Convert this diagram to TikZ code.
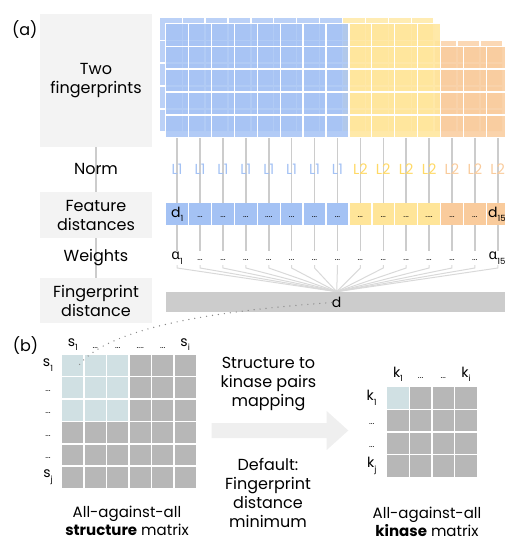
\documentclass[tikz,border=0pt]{standalone}
\usepackage{fontspec}
\setmainfont{Poppins}
\newfontfamily\grk{Noto Sans}
\usetikzlibrary{backgrounds}
\definecolor{fpblue}{HTML}{A4C2F4}
\definecolor{fpyel}{HTML}{FFE599}
\definecolor{fporg}{HTML}{F9CB9C}
\definecolor{lyel}{HTML}{FFD966}
\definecolor{boxgray}{HTML}{F3F3F3}
\definecolor{linegray}{HTML}{CCCCCC}
\definecolor{fangray}{HTML}{D9D9D9}
\definecolor{cellgray}{HTML}{B7B7B7}
\definecolor{cellblue}{HTML}{D0E0E3}
\definecolor{arrowgray}{HTML}{EFEFEF}
\definecolor{dotgray}{HTML}{888888}
\newcommand\sbx[1]{\raisebox{-0.6ex}{\fontsize{8.5}{8.5}\selectfont #1}}
\newcommand\dts{{\fontsize{8.5}{8.5}\selectfont ...}}
\newcommand\dtsf{{\fontsize{8.5}{8.5}\selectfont ....}}
\begin{document}
\begin{tikzpicture}[x=1pt,y=-1pt,
 conn/.style={draw=linegray,line width=1.5pt},
 fanline/.style={draw=fangray,line width=1pt},
 lbox/.style={fill=boxgray,minimum width=112pt,inner sep=0pt,align=center,font=\fontsize{16}{19}\selectfont},
 txt/.style={inner sep=0pt,align=center,font=\fontsize{16}{19}\selectfont},
 captxt/.style={inner sep=0pt,align=center,font=\fontsize{15}{18}\selectfont},
 gback/.style={draw=white,line width=1.3pt,fill opacity=0.75},
 gfront/.style={draw=white,line width=1.3pt,fill opacity=0.85},
 fcell/.style={minimum width=21.5pt,minimum height=21.7pt,inner sep=0pt},
 lab/.style={inner sep=0pt,font=\fontsize{14}{14}\selectfont},
 nlab/.style={inner sep=0pt,font=\fontsize{14.5}{14.5}\selectfont},
 mcell/.style={minimum size=22.45pt,draw=white,line width=1.5pt,inner sep=0pt,fill=cellgray},
 kcell/.style={minimum size=22.65pt,draw=white,line width=1.5pt,inner sep=0pt,fill=cellgray},
 dotline/.style={draw=dotgray,line width=1.4pt,line cap=round,dash pattern=on 0pt off 6pt}
]
\useasboundingbox (0,0) rectangle (505,542);

% ---------- panel (a) left labels
\node[txt] (la) at (24.7,30) {(a)};
\node[txt] (lb) at (25.5,346) {(b)};
\node[lbox,minimum height=133pt] (b1) at (96,80.5) {Two\\fingerprints};
\node[txt] (norm) at (96,169) {Norm};
\node[lbox,minimum height=46pt] (b2) at (96,215) {Feature\\distances};
\node[txt] (wts) at (96,258) {Weights};
\node[lbox,minimum height=45pt] (b3) at (96,300.5) {Fingerprint\\distance};

% ---------- fingerprint grids (back layer)
\foreach \c in {0,...,7}{\foreach \r in {0,...,4}{
  \filldraw[gback,fill=fpblue] ({159.3+22.9*\c},{17.3+22.9*\r}) rectangle ++(22.9,22.9);}}
\foreach \c in {8,...,11}{\foreach \r in {0,...,4}{
  \filldraw[gback,fill=fpyel] ({159.3+22.9*\c},{17.3+22.9*\r}) rectangle ++(22.9,22.9);}}
\foreach \c in {12,13,14}{\foreach \r in {1,...,4}{
  \filldraw[gback,fill=fporg] ({159.3+22.9*\c},{17.3+22.9*\r}) rectangle ++(22.9,22.9);}}
% front layer
\foreach \c in {0,...,7}{\foreach \r in {0,...,4}{
  \filldraw[gfront,fill=fpblue] ({165.7+22.9*\c},{23.3+22.9*\r}) rectangle ++(22.9,22.9);}}
\foreach \c in {8,...,11}{\foreach \r in {0,...,4}{
  \filldraw[gfront,fill=fpyel] ({165.7+22.9*\c},{23.3+22.9*\r}) rectangle ++(22.9,22.9);}}
\foreach \c in {12,13,14}{\foreach \r in {1,...,4}{
  \filldraw[gfront,fill=fporg] ({165.7+22.9*\c},{23.3+22.9*\r}) rectangle ++(22.9,22.9);}}

% ---------- per-feature column
\foreach \i in {0,...,14}{
  \coordinate (g\i) at ({177.15+22.9*\i},137.8);
  \coordinate (at\i) at ({177.15+22.9*\i},251);
  \coordinate (ab\i) at ({177.15+22.9*\i},265);
}
\foreach \i in {0,...,7}{\node[nlab,text=fpblue] (L\i) at ({177.15+22.9*\i},169.5) {L1};}
\foreach \i in {8,...,11}{\node[nlab,text=lyel] (L\i) at ({177.15+22.9*\i},169.5) {L2};}
\foreach \i in {12,13,14}{\node[nlab,text=fporg] (L\i) at ({177.15+22.9*\i},169.5) {L2};}

\foreach \i in {0,...,7}{\node[fcell,fill=fpblue] (f\i) at ({177.15+22.9*\i},214.2) {};}
\foreach \i in {8,...,11}{\node[fcell,fill=fpyel] (f\i) at ({177.15+22.9*\i},214.2) {};}
\foreach \i in {12,13,14}{\node[fcell,fill=fporg] (f\i) at ({177.15+22.9*\i},214.2) {};}

\node[lab] (ft0) at (177.15,214.2) {d\sbx{1}};
\foreach \i/\t in {1/\dts,2/\dts,3/\dts,4/\dtsf,5/\dts,6/\dts,7/\dts,8/\dts,9/\dts,10/\dts,11/\dtsf,12/\dts,13/\dts}{
  \node[lab] (ft\i) at ({177.15+22.9*\i},217.5) {\t};}
\node[lab,anchor=west] (ft14) at (488,214.2) {d\sbx{15}};

\node[lab] (a0) at (177.15,258) {{\grk α}\sbx{1}};
\foreach \i in {1,...,13}{\node[lab] (a\i) at ({177.15+22.9*\i},260) {\dts};}
\node[lab,anchor=west] (a14) at (488.5,258) {{\grk α}\sbx{15}};

% ---------- fingerprint distance bar
\node[fill=linegray,minimum width=339pt,minimum height=20pt,inner sep=0pt] (fpd) at (335.5,301.7) {};
\node[lab] (dtxt) at (336.7,302.5) {d};
\coordinate (conv) at (336.7,291.7);

% ---------- panel (b) structure matrix
\foreach \r in {0,...,5}{\foreach \c in {0,...,5}{
  \node[mcell] (s\r\c) at ({72.9+22.45*\c},{365.2+22.45*\r}) {};}}
\foreach \r in {0,1,2}{\foreach \c in {0,1,2}{
  \node[mcell,fill=cellblue] (s\r\c) at ({72.9+22.45*\c},{365.2+22.45*\r}) {};}}
\node[lab] (sc0) at (72.9,344.5) {s\sbx{1}};
\foreach \c/\t in {1/\dts,2/\dts,3/\dtsf,4/\dts}{\node[lab] (sc\c) at ({72.9+22.45*\c},348) {\t};}
\node[lab] (sc5) at ({72.9+22.45*5},344.5) {s\sbx{i}};
\node[lab] (sr0) at (48,365.2) {s\sbx{1}};
\foreach \r in {1,...,4}{\node[lab] (sr\r) at (48,{368.5+22.45*\r}) {\dts};}
\node[lab] (sr5) at (48,{365.2+22.45*5}) {s\sbx{j}};
\coordinate (dend) at (77,368);

% ---------- kinase matrix
\foreach \r in {0,...,3}{\foreach \c in {0,...,3}{
  \node[kcell] (k\r\c) at ({398+22.65*\c},{398+22.65*\r}) {};}}
\node[kcell,fill=cellblue] (k00) at (398,398) {};
\node[lab] (kc0) at (398,374.5) {k\sbx{1}};
\foreach \c in {1,2}{\node[lab] (kc\c) at ({398+22.65*\c},378) {\dts};}
\node[lab] (kc3) at ({398+22.65*3},374.5) {k\sbx{i}};
\node[lab] (kr0) at (371.7,398) {k\sbx{1}};
\foreach \r in {1,2}{\node[lab] (kr\r) at (371.7,{401.5+22.65*\r}) {\dts};}
\node[lab] (kr3) at (371.7,{398+22.65*3}) {k\sbx{j}};

% ---------- arrow and texts
\fill[arrowgray] (211.7,423) -- (326.7,423) -- (326.7,411) -- (348.3,430.5) -- (326.7,450) -- (326.7,438) -- (211.7,438) -- cycle;
\node[txt] (map) at (268.5,384) {Structure to\\kinase pairs\\mapping};
\node[txt] (dflt) at (268,493) {Default:\\Fingerprint\\distance\\minimum};
\node[captxt] (capS) at (127,521) {All-against-all\\\textbf{structure} matrix};
\node[captxt] (capK) at (427,522) {All-against-all\\\textbf{kinase} matrix};

% ---------- connectors
\begin{pgfonlayer}{background}
\draw[conn] (b1) -- (b2);
\draw[conn] (b2) -- (b3);
\foreach \i in {0,...,14}{
  \draw[conn] (g\i) -- (f\i);
  \draw[conn] (f\i) -- (at\i);
  \draw[fanline] (ab\i) -- ++(0,3) -- (conv);
}
\end{pgfonlayer}
\draw[dotline] (dtxt.west) .. controls (230,310) and (105,325) .. (dend);
\end{tikzpicture}
\end{document}
